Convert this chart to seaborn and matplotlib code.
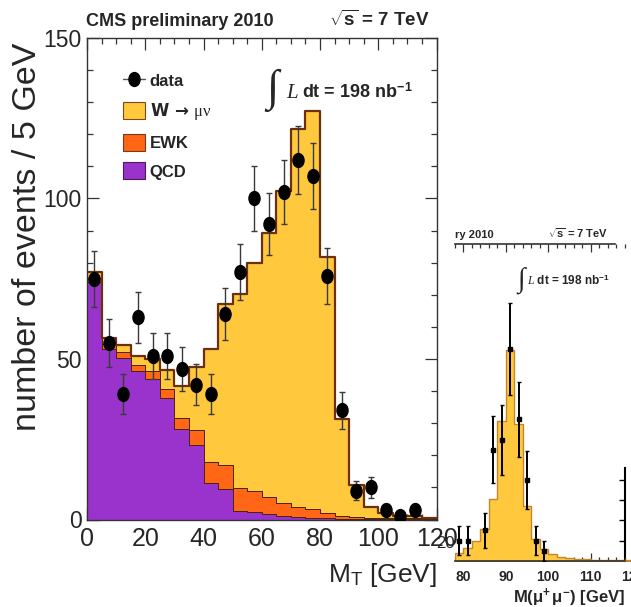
import numpy as np
import pandas as pd
import matplotlib
matplotlib.use("Agg")
import matplotlib.pyplot as plt
from matplotlib.path import Path
from matplotlib.transforms import Affine2D
from matplotlib.lines import Line2D
from matplotlib.patches import Patch
from matplotlib.ticker import MultipleLocator, FixedLocator
import seaborn as sns

# ---------------- W -> mu nu transverse mass, 5 GeV bins ----------------
mt_edges = list(range(0, 125, 5))
mt_centers = np.array(mt_edges[:-1]) + 2.5
qcd = [74.0, 53.2, 50.4, 46.3, 43.8, 37.8, 28.2, 23.3, 11.4, 9.5, 2.5, 2.3,
       1.8, 1.2, 0.8, 0.6, 0.4, 0.3, 0.2, 0.1, 0.1, 0.05, 0.05, 0.05]
ewk = [1.2, 1.6, 1.8, 1.9, 2.4, 2.9, 3.4, 4.7, 6.4, 7.6, 7.3, 6.5,
       5.3, 4.0, 3.2, 2.7, 1.7, 0.9, 0.6, 0.5, 0.4, 0.3, 0.3, 0.2]
wmunu = [1.9, 1.7, 2.1, 2.8, 3.8, 5.8, 9.9, 19.4, 35.2, 50.0, 60.6, 71.1,
         82.1, 97.2, 117.8, 123.9, 79.7, 30.2, 9.9, 3.4, 1.6, 0.85, 0.85, 0.35]
data_counts = [75, 55, 39, 63, 51, 51, 47, 42, 39, 64, 77, 100,
               92, 102, 112, 107, 76, 34, 9, 10, 3, 1, 3, 0]
# seaborn puts the first hue level on top of the stack
stack_order = ["Wmunu", "EWK", "QCD"]
legend_labels = ["data", "W \u2192 $\\mathrm{\\mu\\nu}$", "EWK", "QCD"]

# ---------------- Z -> mu mu invariant mass, 2 GeV bins ----------------
mll_edges = list(range(78, 122, 2))
mll_centers = np.array(mll_edges[:-1]) + 1
z_mc = [0.8, 1.3, 2.0, 3.1, 6.1, 13.9, 20.9, 13.6, 5.4, 2.2, 1.2,
        0.7, 0.4, 0.22, 0.17, 0.12, 0.1, 0.08, 0.07, 0.06, 0.05]
z_data_mass = [79, 81, 85, 87, 89, 91, 93, 95, 97, 99]
z_data_counts = [2, 2, 3, 11, 12, 21, 14, 8, 2, 1]

# ---------------- style ----------------
sns.set_style("ticks")
plt.rcParams["font.family"] = ["Liberation Sans", "DejaVu Sans"]
plt.rcParams["mathtext.fontset"] = "custom"
plt.rcParams["mathtext.rm"] = "Liberation Serif"
plt.rcParams["mathtext.it"] = "Liberation Serif:italic"
plt.rcParams["mathtext.bf"] = "Liberation Sans:bold"
plt.rcParams["mathtext.sf"] = "Liberation Sans"

C_W = "#FFC83D"
C_EWK = "#FF6616"
C_QCD = "#9933CC"
C_OUT = "#6E300C"
AX_COL = "#333333"

W, H = 631, 607
def fx(px):
    return px / W
def fy(py):
    return 1 - py / H

fig = plt.figure(figsize=(W / 100, H / 100), dpi=100)
ax = fig.add_axes([fx(87), fy(519.5), (436.5 - 87) / W, (519.5 - 38) / H])

df_mt = pd.DataFrame({
    "mt": np.tile(mt_centers, 3),
    "events": np.concatenate([wmunu, ewk, qcd]),
    "process": np.repeat(stack_order, len(mt_centers)),
})
sns.histplot(data=df_mt, x="mt", weights="events", hue="process",
             hue_order=stack_order, multiple="stack", bins=mt_edges,
             element="step", alpha=1, linewidth=0.7, edgecolor="#4a2410",
             palette={"QCD": C_QCD, "EWK": C_EWK, "Wmunu": C_W},
             legend=False, ax=ax)
total = np.array(qcd) + np.array(ewk) + np.array(wmunu)
sns.histplot(x=mt_centers, weights=total, bins=mt_edges, element="step",
             fill=False, color=C_OUT, linewidth=1.6, ax=ax)

ellipse = Path.unit_circle().transformed(Affine2D().scale(0.8, 1.0))
counts = np.array(data_counts, dtype=float)
has = counts > 0
ax.errorbar(mt_centers[has], counts[has], yerr=np.sqrt(counts[has]),
            fmt="none", ecolor="#3a3a3a", elinewidth=1.0, capsize=2.5,
            capthick=1.0, zorder=5)
ax.plot(mt_centers[has], counts[has], linestyle="none", marker=ellipse,
        markersize=10, color="black", zorder=6)

ax.set_xlim(0, 120)
ax.set_ylim(0, 150)
ax.xaxis.set_major_locator(MultipleLocator(20))
ax.xaxis.set_minor_locator(MultipleLocator(5))
ax.yaxis.set_major_locator(MultipleLocator(50))
ax.yaxis.set_minor_locator(MultipleLocator(10))
ax.tick_params(which="both", direction="in", top=True, right=True,
               color=AX_COL, width=0.9)
ax.tick_params(which="major", length=8.6, pad=5)
ax.tick_params(which="minor", length=4.3)
ax.tick_params(axis="x", which="major", labelsize=18, pad=5.5)
ax.tick_params(axis="y", which="major", labelsize=16.5, pad=4)
for sp in ax.spines.values():
    sp.set_color(AX_COL)
    sp.set_linewidth(1.0)

ax.set_ylabel("number of events / 5 GeV", fontsize=24.5, loc="top")
ax.yaxis.set_label_coords(-0.125, 0.99)
ax.set_xlabel(r"M$_{\mathsf{T}}$ [GeV]", fontsize=19, loc="right")
ax.xaxis.set_label_coords(1.0, -0.086)

handles = [
    Line2D([0], [0], color="#555555", lw=1.0, marker=ellipse, markersize=10,
           markerfacecolor="black", markeredgecolor="black"),
    Patch(facecolor=C_W, edgecolor="#7a4a1a", linewidth=0.8),
    Patch(facecolor=C_EWK, edgecolor="#7a3a1a", linewidth=0.8),
    Patch(facecolor=C_QCD, edgecolor="#4a1a5a", linewidth=0.8),
]
leg = ax.legend(handles, legend_labels, loc="upper left",
                bbox_to_anchor=((123 - 87) / 349.5, (519.5 - 72) / 481.5),
                frameon=False, borderpad=0, borderaxespad=0,
                handlelength=1.3, handleheight=1.2, handletextpad=0.3,
                labelspacing=0.7, prop={"weight": "bold", "size": 12})
# the W entry uses DejaVu Sans for its heavier arrow
leg.get_texts()[1].set_family(["DejaVu Sans"])

fig.text(fx(86), fy(26), "CMS preliminary 2010", fontsize=13,
         fontweight="bold", ha="left", va="baseline")
fig.text(fx(430), fy(26), r"$\sqrt{\mathbf{s}}$ = 7 TeV", fontsize=13.5,
         fontweight="bold", ha="right", va="baseline")
fig.text(fx(272), fy(90), "\u222b", fontsize=32,
         family=["Liberation Serif", "DejaVu Serif"], ha="center", va="center")
fig.text(fx(286), fy(98), r"$\mathit{L}$", fontsize=15, ha="left", va="baseline")
fig.text(fx(302), fy(98), r"dt = 198 nb$^{\mathbf{-1}}$", fontsize=13,
         fontweight="bold", ha="left", va="baseline")

# ---------------- Z panel ----------------
axz = fig.add_axes([fx(455), fy(560.7), 178 / W, (560.7 - 244) / H])
axz.patch.set_visible(False)
sns.histplot(x=mll_centers, weights=z_mc, bins=mll_edges, element="step",
             color=C_W, alpha=1, edgecolor="#C4862A", linewidth=1.0, ax=axz)
zc = np.array(z_data_counts, dtype=float)
axz.errorbar(z_data_mass, zc, yerr=np.sqrt(zc), fmt="s", color="black",
             markersize=3.5, elinewidth=1.4, capsize=1.5, capthick=1.0,
             zorder=5)
axz.set_xlim(78, 120)
axz.set_ylim(0, 31.4)
axz.set_ylabel("")
axz.xaxis.set_major_locator(FixedLocator([80, 90, 100, 110, 120]))
axz.xaxis.set_minor_locator(MultipleLocator(2))
axz.yaxis.set_major_locator(FixedLocator([]))
axz.tick_params(axis="x", which="both", direction="in", top=True, bottom=True,
                color=AX_COL, width=0.9)
axz.tick_params(axis="x", which="major", length=5.5, pad=6.5, labelsize=10)
axz.tick_params(axis="x", which="minor", length=3.2)
axz.tick_params(axis="y", left=False, right=False, labelleft=False)
for lbl in axz.get_xticklabels():
    lbl.set_fontweight("bold")
axz.spines["left"].set_visible(False)
axz.spines["right"].set_visible(False)
axz.spines["top"].set_bounds(78, 115.8)
axz.spines["bottom"].set_bounds(78, 118.2)
for sp in axz.spines.values():
    sp.set_color(AX_COL)
    sp.set_linewidth(1.2)
axz.set_xlabel(r"M($\mathbf{\mu^{+}\,\mu^{-}}$) [GeV]", fontsize=12,
               fontweight="bold")
axz.xaxis.label.set_horizontalalignment("right")
axz.xaxis.set_label_coords((625 - 455) / 178, -0.082)

sec = axz.secondary_yaxis((625 - 455) / 178)
sec.set_yticks([2, 4, 6, 8])
sec.tick_params(direction="in", length=4, width=1.0, color="black",
                labelright=False, labelleft=False)
sec.spines["right"].set_bounds(0, 9.2)
sec.spines["right"].set_linewidth(1.5)
sec.spines["right"].set_color("black")

fig.text(fx(455), fy(238), "ry 2010", fontsize=8, fontweight="bold",
         ha="left", va="baseline")
fig.text(fx(608), fy(238), r"$\sqrt{\mathbf{s}}$ = 7 TeV", fontsize=8,
         fontweight="bold", ha="right", va="baseline")
fig.text(fx(521), fy(280), "\u222b", fontsize=20,
         family=["Liberation Serif", "DejaVu Serif"], ha="center", va="center")
fig.text(fx(527), fy(285), r"$\mathit{L}$ dt = 198 nb$^{\mathbf{-1}}$",
         fontsize=8.5, fontweight="bold", ha="left", va="baseline")
fig.text(fx(455), fy(543), "20", fontsize=12, ha="right", va="center")

fig.savefig("out.png", dpi=100)
